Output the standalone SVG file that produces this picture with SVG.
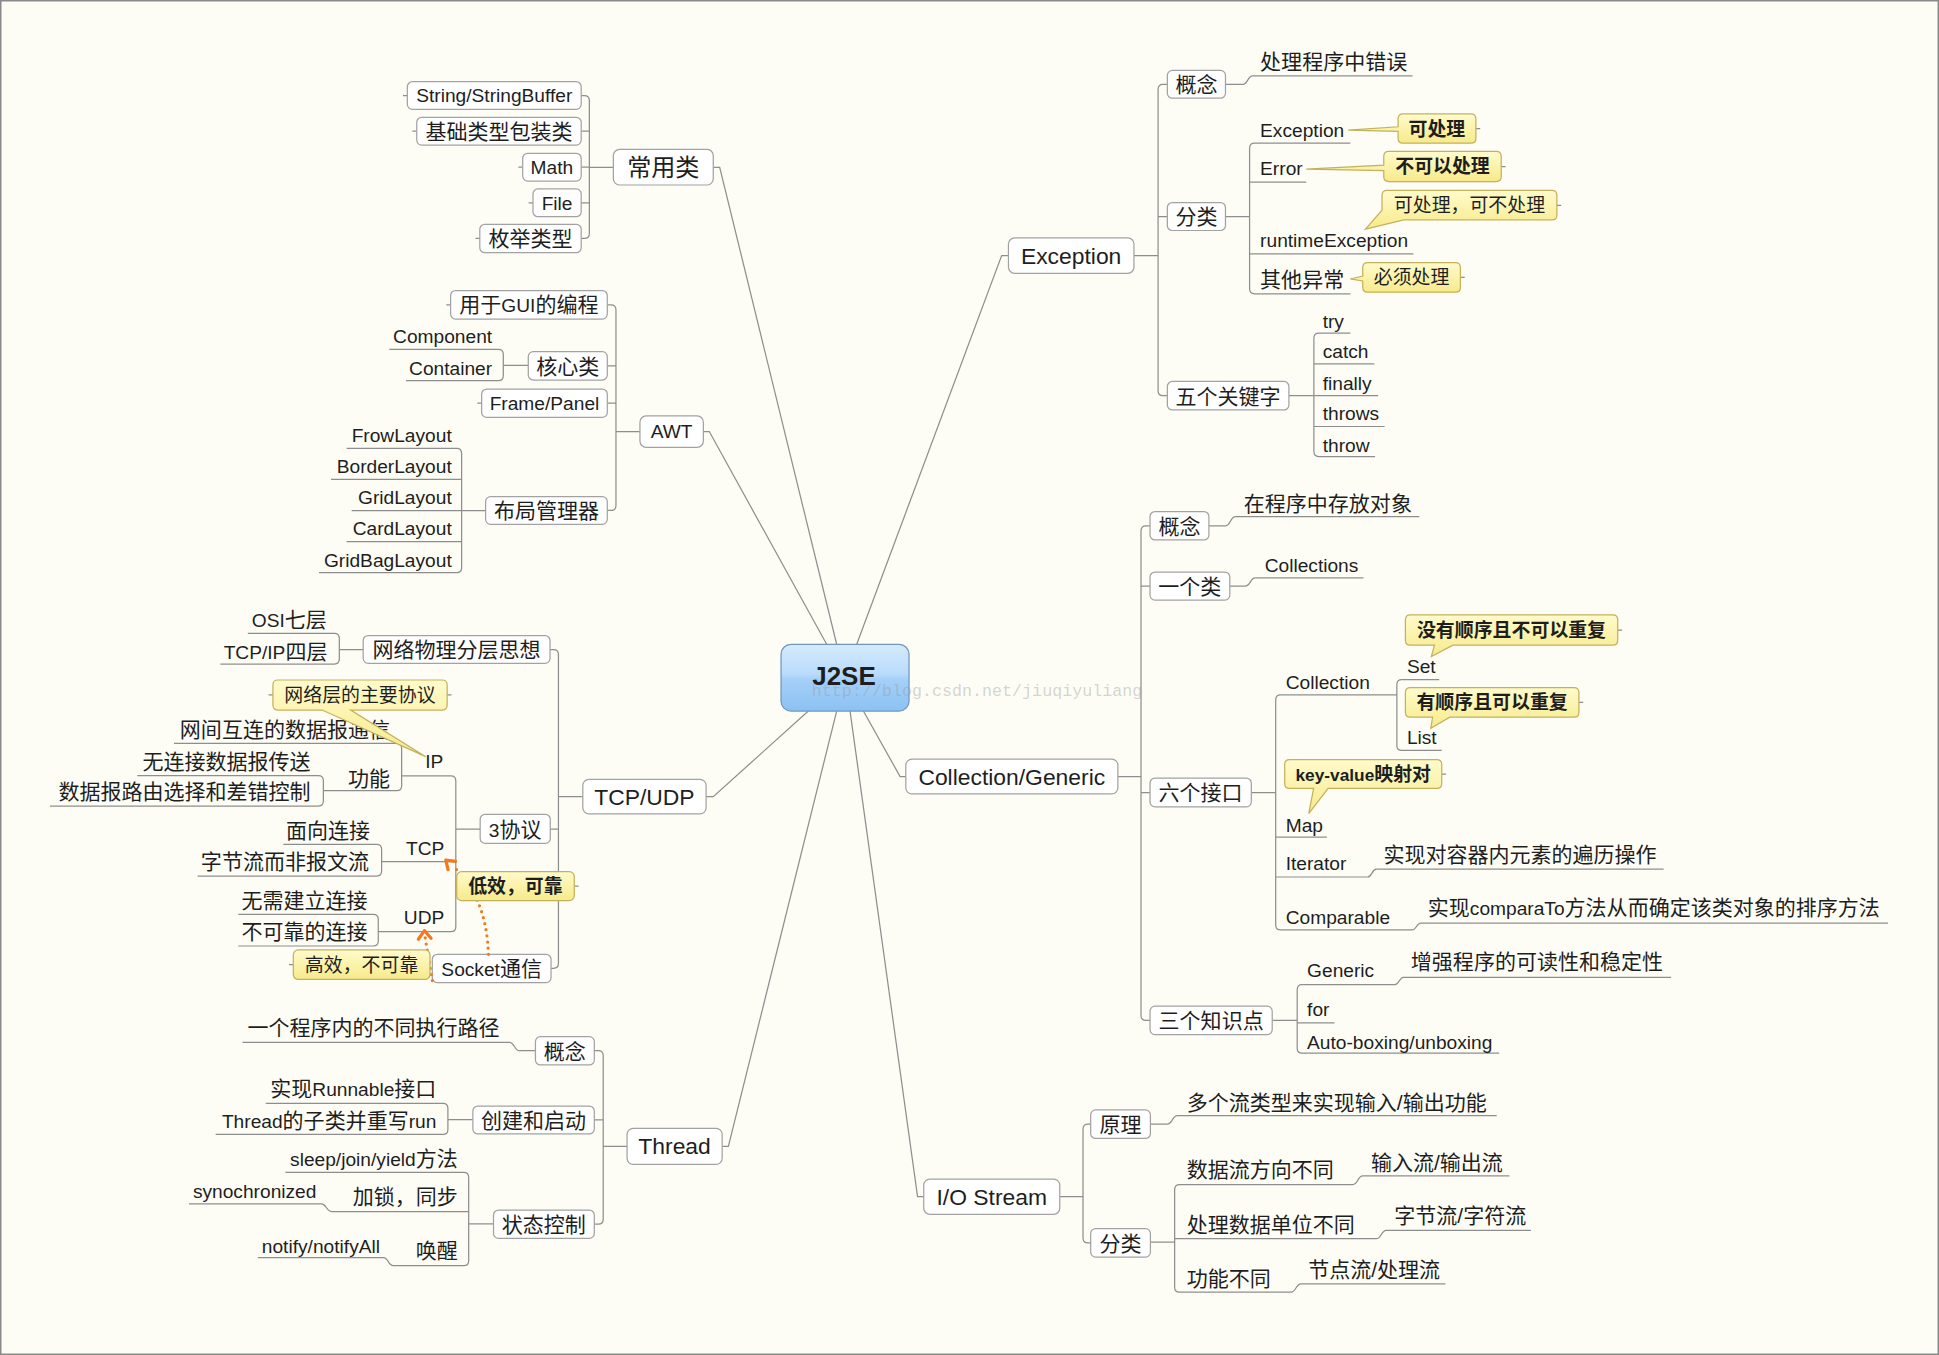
<svg xmlns="http://www.w3.org/2000/svg" width="1939" height="1355" viewBox="0 0 1939 1355">
<defs>
<linearGradient id="gJ" x1="0" y1="0" x2="0" y2="1">
<stop offset="0" stop-color="#d5eafd"/>
<stop offset="0.45" stop-color="#b9dbfb"/>
<stop offset="0.52" stop-color="#a5d0f8"/>
<stop offset="1" stop-color="#8bc2f3"/>
</linearGradient>
<linearGradient id="gC" x1="0" y1="0" x2="0" y2="1">
<stop offset="0" stop-color="#fffbcc"/>
<stop offset="1" stop-color="#f7ea8a"/>
</linearGradient>
<style>
.ln{fill:none;stroke:#8e8e8e;stroke-width:1}
.bx{fill:#ffffff;stroke:#a2a2a2;stroke-width:1}
.co{fill:url(#gC);stroke:#c3b15c;stroke-width:1}
text{font-family:"Liberation Sans","Noto Sans CJK SC",sans-serif;fill:#1e1e1e}
.l{font-size:15.5px}
.c{font-size:17px}
.m{font-size:18.5px}
.mc{font-size:19.5px}
.k{font-size:15.3px}
.kl{font-size:14px}
.b{font-weight:bold}
.e{text-anchor:end}
.mid{text-anchor:middle}
.rel{fill:none;stroke:#f07a22;stroke-width:2.6;stroke-linecap:round;stroke-linejoin:round}
.dot{stroke-dasharray:0 5}
.wm{font-family:"Liberation Mono",monospace;font-size:13.5px;fill:#9a9a9a;fill-opacity:0.42}
</style>
</defs>
<rect x="0" y="0" width="1939" height="1355" fill="#fdfdf5"/>
<rect x="0.75" y="0.75" width="1937.5" height="1353.5" fill="none" stroke="#8a8a8a" stroke-width="1.5"/>
<g transform="scale(1.2366)">
<g id="connectors">
<path class="ln" d="M577,135.3H582L676.6,521"/>
<path class="ln" d="M568.8,349H573.6L668.5,521"/>
<path class="ln" d="M571,644.2H576.8L653.7,575"/>
<path class="ln" d="M584,927H589L676.6,575"/>
<path class="ln" d="M747,967.7H742L687.4,575"/>
<path class="ln" d="M732.5,628H727.9L698.2,575"/>
<path class="ln" d="M815.5,206.7H810L692.8,521"/>
<path class="ln" d="M470,77.3H472.6Q476.6,77.3 476.6,81.3V188.8Q476.6,192.8 472.6,192.8H470M470,106.1H476.6M470,135.2H476.6M470,164H476.6M476.6,135.3H496"/>
<path class="ln" d="M491.1,246.6H494.1Q498.1,246.6 498.1,250.6V408.8Q498.1,412.8 494.1,412.8H491.1M491.1,295.8H498.1M491.1,326H498.1M498.1,349H517.5"/>
<path class="ln" d="M314.8,282.5H403Q407,282.5 407,286.5V303.8Q407,307.8 403,307.8H328.3M407,295.5H427.2"/>
<path class="ln" d="M280.3,362.6H369.3Q373.3,362.6 373.3,366.6V459.1Q373.3,463.1 369.3,463.1H258M267.7,387.6H373.3M284.4,413H392.7M280.3,438H373.3"/>
<path class="ln" d="M944,68.2H940.5Q936.5,68.2 936.5,72.2V316Q936.5,320 940.5,320H944M944,175.1H936.5M917,206.7H936.5"/>
<path class="ln" d="M991,68.2H1005C1009,68.2 1009,61.3 1013,61.3H1142.3"/>
<path class="ln" d="M1092,115.8H1014.5Q1010.5,115.8 1010.5,119.8V233.6Q1010.5,237.6 1014.5,237.6H1092M1010.5,147.3H1056.3M1010.5,205.3H1143M991,175.1H1010.5"/>
<path class="ln" d="M1092,269.4H1066.5Q1062.5,269.4 1062.5,273.4V365.2Q1062.5,369.2 1066.5,369.2H1112M1062.5,294.3H1111.4M1042.3,320H1114.5M1062.5,344.9H1119.7"/>
<path class="ln" d="M930,425.2H926.7Q922.7,425.2 922.7,429.2V821.2Q922.7,825.2 926.7,825.2H930M930,474H922.7M930,641H922.7M904,628H922.7"/>
<path class="ln" d="M977.6,425.2H991C995,425.2 995,417.8 999,417.8H1147.7"/>
<path class="ln" d="M994.5,474H1007C1011,474 1011,467.4 1015,467.4H1102.6"/>
<path class="ln" d="M1129.6,562H1035.6Q1031.6,562 1031.6,566V748Q1031.6,752 1035.6,752H1142C1145.5,752 1145.5,746.5 1149,746.5H1526.8M1031.6,677H1073M1031.6,709.2H1106C1109.5,709.2 1109.5,702.9 1113,702.9H1345.3M1011.9,641H1031.6"/>
<path class="ln" d="M1163.9,549.5H1133.6Q1129.6,549.5 1129.6,553.5V602.8Q1129.6,606.8 1133.6,606.8H1165.9"/>
<path class="ln" d="M1057,796.3H1053Q1049,796.3 1049,800.3V847.6Q1049,851.6 1053,851.6H1212.3M1053,796.3H1128C1131.5,796.3 1131.5,790.4 1135,790.4H1351.4M1049,827.1H1079.2M1028.8,825.2H1049"/>
<path class="ln" d="M882,909.1H879.8Q875.8,909.1 875.8,913.1V1001.1Q875.8,1005.1 879.8,1005.1H882M857,967.7H875.8"/>
<path class="ln" d="M930.3,909.1H944C948,909.1 948,902.2 952,902.2H1210.3"/>
<path class="ln" d="M953.9,957.9H1094C1098,957.9 1098,950.9 1102,950.9H1220.6M953.9,957.9Q949.9,957.9 949.9,961.9V1040.9Q949.9,1044.9 953.9,1044.9H1044C1048,1044.9 1048,1038.2 1052,1038.2H1168.9M949.9,1001.7H1113C1117,1001.7 1117,994.9 1121,994.9H1238M930.3,1004.5H949.9"/>
<path class="ln" d="M480.6,849.7H483.8Q487.8,849.7 487.8,853.7V986Q487.8,990 483.8,990H480.6M480.6,905.7H487.8M487.8,927H507.1"/>
<path class="ln" d="M433,849.7H420C416,849.7 416,842.9 412,842.9H196.1"/>
<path class="ln" d="M214.9,892.2H358.2Q362.2,892.2 362.2,896.2V913.3Q362.2,917.3 358.2,917.3H174.4M362.2,905.5H382.4"/>
<path class="ln" d="M230.8,948H375Q379,948 379,952V1019.5Q379,1023.5 375,1023.5H318C314,1023.5 314,1017 310,1017H208.5M379,979.8H268C264,979.8 264,973.6 260,973.6H152.8M379,989.8H399.1"/>
<path class="ln" d="M444.8,525.3H447.6Q451.6,525.3 451.6,529.3V779Q451.6,783 447.6,783H445.6M445,670.4H451.6M451.6,644.2H471.3"/>
<path class="ln" d="M200.4,512.2H270.4Q274.4,512.2 274.4,516.2V533Q274.4,537 270.4,537H178.2M274.4,525.3H293.7"/>
<path class="ln" d="M324.8,627.5H364.6Q368.6,627.5 368.6,631.5V749.4Q368.6,753.4 364.6,753.4H305.9M308.6,696.8H368.6M368.6,670.4H388.3"/>
<path class="ln" d="M140.7,601.1H320.8Q324.8,601.1 324.8,605.1V635.4Q324.8,639.4 320.8,639.4H261.5"/>
<path class="ln" d="M111,627.3H257.5Q261.5,627.3 261.5,631.3V647.8Q261.5,651.8 257.5,651.8H40.4"/>
<path class="ln" d="M229.1,682.8H304.6Q308.6,682.8 308.6,686.8V704.4Q308.6,708.4 304.6,708.4H159.8"/>
<path class="ln" d="M192.7,739.4H301.9Q305.9,739.4 305.9,743.4V761Q305.9,765 301.9,765H192.7"/>
<path class="ln" d="M329.4,77.3h-3.5M337,106.1h-3.5M422.7,135.2h-3.5M431,164h-3.5M388,192.8h-3.5M364.4,246.6h-3.5M389.5,326h-3.5"/>
<path class="ln" d="M1193.5,104h3.5M1214,134.7h3.5M1259,166h3.5M1181,224.3h3.5M1308.2,509.5h3.5M1276.8,568h3.5M1165.9,626h3.5M220.7,562h-3.5M361.6,562h3.5M464.4,716.6h3.5M237.2,780.1h-3.5"/>
</g>
<g id="n-j2se">
<rect x="631.6" y="521.1" width="103.5" height="53.9" rx="8" fill="url(#gJ)" stroke="#7195bb"/>
<text class="wm" x="656.5" y="562.5">http://blog.csdn.net/jiuqiyuliang</text>
<text class="mid b" x="682.5" y="554" font-size="21" fill="#2b2b2b">J2SE</text>
</g>
<g id="n-changyong">
<rect class="bx" x="496" y="120.8" width="80.8" height="28.8" rx="5"/>
<text class="mc mid" x="536.4" y="142.5">常用类</text>
</g>
<g id="n-string"><rect class="bx" x="329.4" y="66.1" width="140.6" height="22.3" rx="4"/><text class="l mid" x="399.7" y="82.8">String/StringBuffer</text></g>
<g id="n-baozhuang"><rect class="bx" x="337" y="94.9" width="133" height="22.4" rx="4"/><text class="c mid" x="403.5" y="112.5">基础类型包装类</text></g>
<g id="n-math"><rect class="bx" x="422.7" y="124" width="47.3" height="22.4" rx="4"/><text class="l mid" x="446.3" y="140.7">Math</text></g>
<g id="n-file"><rect class="bx" x="431" y="152.8" width="39" height="22.4" rx="4"/><text class="l mid" x="450.5" y="169.5">File</text></g>
<g id="n-meiju"><rect class="bx" x="388" y="181.4" width="82" height="22.9" rx="4"/><text class="c mid" x="429" y="199.2">枚举类型</text></g>
<g id="n-awt">
<rect class="bx" x="517.5" y="336.4" width="51.3" height="25.3" rx="5"/>
<text class="l mid" x="543.1" y="354.5">AWT</text>
</g>
<g id="n-gui"><rect class="bx" x="364.4" y="235" width="126.7" height="23" rx="4"/><text class="c mid" x="427.7" y="252.7">用于<tspan class="l">GUI</tspan>的编程</text></g>
<g id="n-hexin"><rect class="bx" x="427.2" y="284.4" width="63.9" height="22.9" rx="4"/><text class="c mid" x="459.1" y="302.2">核心类</text></g>
<g id="n-component"><text class="l e" x="398" y="277.6">Component</text></g>
<g id="n-container"><text class="l e" x="398" y="303.3">Container</text></g>
<g id="n-frame"><rect class="bx" x="389.5" y="314.6" width="101.6" height="22.9" rx="4"/><text class="l mid" x="440.3" y="331.5">Frame/Panel</text></g>
<g id="n-buju"><rect class="bx" x="392.7" y="401.6" width="98.4" height="22.4" rx="4"/><text class="c mid" x="441.9" y="419.2">布局管理器</text></g>
<g id="n-layouts">
<text class="l e" x="365.3" y="357.2">FrowLayout</text>
<text class="l e" x="365.3" y="382.2">BorderLayout</text>
<text class="l e" x="365.3" y="407.6">GridLayout</text>
<text class="l e" x="365.3" y="432.6">CardLayout</text>
<text class="l e" x="365.3" y="458.3">GridBagLayout</text>
</g>
<g id="n-exception">
<rect class="bx" x="815.5" y="192.4" width="101.5" height="28.6" rx="5"/>
<text class="m mid" x="866.2" y="213.3">Exception</text>
</g>
<g id="n-exc-gainian"><rect class="bx" x="944" y="57" width="47" height="22.4" rx="4"/><text class="c mid" x="967.5" y="74.6">概念</text></g>
<g id="n-exc-chuli"><text class="c" x="1019" y="56">处理程序中错误</text></g>
<g id="n-exc-fenlei"><rect class="bx" x="944" y="163.8" width="47" height="22.6" rx="4"/><text class="c mid" x="967.5" y="181.5">分类</text></g>
<g id="n-exc-exception"><text class="l" x="1019" y="110.4">Exception</text></g>
<g id="n-exc-error"><text class="l" x="1019" y="141.4">Error</text></g>
<g id="n-exc-runtime"><text class="l" x="1019" y="200">runtimeException</text></g>
<g id="n-exc-other"><text class="c" x="1019" y="232">其他异常</text></g>
<g id="n-exc-keywords"><rect class="bx" x="944" y="308.5" width="98.3" height="23" rx="4"/><text class="c mid" x="993.1" y="326.4">五个关键字</text></g>
<g id="n-exc-kw">
<text class="l" x="1069.6" y="265.4">try</text>
<text class="l" x="1069.6" y="289.7">catch</text>
<text class="l" x="1069.6" y="315.3">finally</text>
<text class="l" x="1069.6" y="339.5">throws</text>
<text class="l" x="1069.6" y="365.2">throw</text>
</g>
<g id="n-collection">
<rect class="bx" x="732.5" y="613.8" width="171.5" height="28.2" rx="5"/>
<text class="m mid" x="818.2" y="634.6">Collection/Generic</text>
</g>
<g id="n-col-gainian"><rect class="bx" x="930" y="413.7" width="47.6" height="22.9" rx="4"/><text class="c mid" x="953.8" y="431.6">概念</text></g>
<g id="n-col-cunfang"><text class="c" x="1005.8" y="413.3">在程序中存放对象</text></g>
<g id="n-col-yigelei"><rect class="bx" x="930" y="462.6" width="64.5" height="22.7" rx="4"/><text class="c mid" x="962.2" y="480.4">一个类</text></g>
<g id="n-col-collections"><text class="l" x="1022.7" y="462.6">Collections</text></g>
<g id="n-col-jiekou"><rect class="bx" x="930" y="629.2" width="81.9" height="23.3" rx="4"/><text class="c mid" x="970.9" y="647.3">六个接口</text></g>
<g id="n-col-coll"><text class="l" x="1039.7" y="557">Collection</text></g>
<g id="n-col-set"><text class="l" x="1137.7" y="544.1">Set</text></g>
<g id="n-col-list"><text class="l" x="1137.7" y="601.7">List</text></g>
<g id="n-col-map"><text class="l" x="1039.7" y="672.5">Map</text></g>
<g id="n-col-iterator"><text class="l" x="1039.7" y="703.8">Iterator</text><text class="c" x="1118.7" y="697">实现对容器内元素的遍历操作</text></g>
<g id="n-col-comparable"><text class="l" x="1039.7" y="747">Comparable</text><text class="c" x="1154.6" y="740.3">实现<tspan class="l">comparaTo</tspan>方法从而确定该类对象的排序方法</text></g>
<g id="n-col-sange"><rect class="bx" x="930" y="813.7" width="98.8" height="22.9" rx="4"/><text class="c mid" x="979.4" y="831.6">三个知识点</text></g>
<g id="n-col-generic"><text class="l" x="1057" y="790.4">Generic</text><text class="c" x="1140.9" y="783.3">增强程序的可读性和稳定性</text></g>
<g id="n-col-for"><text class="l" x="1057" y="821.7">for</text></g>
<g id="n-col-autobox"><text class="l" x="1057" y="848.6">Auto-boxing/unboxing</text></g>
<g id="n-io">
<rect class="bx" x="747" y="953.5" width="110" height="28.5" rx="5"/>
<text class="m mid" x="802" y="974.3">I/O Stream</text>
</g>
<g id="n-io-yuanli"><rect class="bx" x="882" y="897.6" width="48.3" height="23" rx="4"/><text class="c mid" x="906.1" y="915.5">原理</text></g>
<g id="n-io-duoge"><text class="c" x="959.6" y="897.8">多个流类型来实现输入/输出功能</text></g>
<g id="n-io-fenlei"><rect class="bx" x="882" y="993.6" width="48.3" height="23" rx="4"/><text class="c mid" x="906.1" y="1011.5">分类</text></g>
<g id="n-io-fangxiang"><text class="c" x="959.6" y="952">数据流方向不同</text><text class="c" x="1108.6" y="945.8">输入流/输出流</text></g>
<g id="n-io-danwei"><text class="c" x="959.6" y="996">处理数据单位不同</text><text class="c" x="1127.5" y="989">字节流/字符流</text></g>
<g id="n-io-gongneng"><text class="c" x="959.6" y="1040">功能不同</text><text class="c" x="1057.9" y="1032.8">节点流/处理流</text></g>
<g id="n-thread">
<rect class="bx" x="507.1" y="912.4" width="76.9" height="29.2" rx="5"/>
<text class="m mid" x="545.5" y="933.6">Thread</text>
</g>
<g id="n-thr-gainian"><rect class="bx" x="433" y="838.3" width="47.6" height="22.9" rx="4"/><text class="c mid" x="456.8" y="856.1">概念</text></g>
<g id="n-thr-lujing"><text class="c e" x="404" y="837.2">一个程序内的不同执行路径</text></g>
<g id="n-thr-chuangjian"><rect class="bx" x="382.4" y="894.4" width="98.2" height="22.6" rx="4"/><text class="c mid" x="431.5" y="912.1">创建和启动</text></g>
<g id="n-thr-runnable"><text class="c e" x="352.9" y="886.5">实现<tspan class="l">Runnable</tspan>接口</text></g>
<g id="n-thr-sub"><text class="c e" x="352.9" y="912.2"><tspan class="l">Thread</tspan>的子类并重写<tspan class="l">run</tspan></text></g>
<g id="n-thr-zhuangtai"><rect class="bx" x="399.1" y="978.5" width="81.5" height="22.9" rx="4"/><text class="c mid" x="439.8" y="996.4">状态控制</text></g>
<g id="n-thr-sleep"><text class="c e" x="370.2" y="943.2"><tspan class="l">sleep/join/yield</tspan>方法</text></g>
<g id="n-thr-suo"><text class="c e" x="370.2" y="973.5">加锁，同步</text></g>
<g id="n-thr-sync"><text class="l e" x="255.9" y="969">synochronized</text></g>
<g id="n-thr-huanxing"><text class="c e" x="370.2" y="1017.4">唤醒</text></g>
<g id="n-thr-notify"><text class="l e" x="307.3" y="1013">notify/notifyAll</text></g>
<g id="n-tcpudp">
<rect class="bx" x="471.3" y="630.2" width="99.7" height="28" rx="5"/>
<text class="m mid" x="521.1" y="650.8">TCP/UDP</text>
</g>
<g id="n-net-fenceng"><rect class="bx" x="293.7" y="514" width="151.1" height="22.4" rx="4"/><text class="c mid" x="369.2" y="531.6">网络物理分层思想</text></g>
<g id="n-net-osi"><text class="c e" x="264.3" y="506.8"><tspan class="l">OSI</tspan>七层</text></g>
<g id="n-net-tcpip"><text class="c e" x="264.8" y="532.6"><tspan class="l">TCP/IP</tspan>四层</text></g>
<g id="n-net-xieyi"><rect class="bx" x="388.3" y="658.5" width="56.7" height="23.5" rx="4"/><text class="c mid" x="416.6" y="676.5"><tspan class="l">3</tspan>协议</text></g>
<g id="n-net-ip"><text class="l e" x="358.5" y="621.3">IP</text></g>
<g id="n-net-hulian"><text class="c e" x="315.4" y="596">网间互连的数据报通信</text></g>
<g id="n-net-gongneng"><text class="c e" x="315.4" y="635.5">功能</text></g>
<g id="n-net-wulianjie"><text class="c e" x="251.2" y="621.5">无连接数据报传送</text></g>
<g id="n-net-luyou"><text class="c e" x="251.2" y="645.8">数据报路由选择和差错控制</text></g>
<g id="n-net-tcp"><text class="l e" x="359.3" y="691.4">TCP</text></g>
<g id="n-net-mianxiang"><text class="c e" x="299.2" y="677.5">面向连接</text></g>
<g id="n-net-zijie"><text class="c e" x="298.4" y="703">字节流而非报文流</text></g>
<g id="n-net-udp"><text class="l e" x="359.3" y="747.5">UDP</text></g>
<g id="n-net-wuxu"><text class="c e" x="297.3" y="734">无需建立连接</text></g>
<g id="n-net-bukekao"><text class="c e" x="297.3" y="759">不可靠的连接</text></g>
<g id="n-net-socket"><rect class="bx" x="349.6" y="771.7" width="96" height="22.9" rx="4"/><text class="c mid" x="397.6" y="789.1"><tspan class="l">Socket</tspan>通信</text></g>
<g id="relations">
<path class="rel dot" d="M395,771.7C394,748 389,722 366,700"/>
<path class="rel" d="M368.4,696.5L360.5,695.5L362.3,703.3"/>
<path class="rel dot" d="M349.6,793L343.6,757"/>
<path class="rel" d="M338.3,759.5L343.2,752.6L348.6,758.7"/>
</g>
<g id="callouts">
<g id="c-kechuli"><path class="co" d="M1134.6,92.1H1189.5Q1193.5,92.1 1193.5,96.1V111.8Q1193.5,115.8 1189.5,115.8H1134.6Q1130.6,115.8 1130.6,111.8V106.3L1090.3,105.2L1130.6,102.5V96.1Q1130.6,92.1 1134.6,92.1Z"/><text class="k b mid" x="1162" y="109.6">可处理</text></g>
<g id="c-bukeyi"><path class="co" d="M1123,122.5H1210Q1214,122.5 1214,126.5V142.8Q1214,146.8 1210,146.8H1123Q1119,146.8 1119,142.8V137.9L1056.3,136.8L1119,133.6V126.5Q1119,122.5 1123,122.5Z"/><text class="k b mid" x="1166.5" y="140.3">不可以处理</text></g>
<g id="c-kebu"><path class="co" d="M1121.6,154H1255Q1259,154 1259,158V173.8Q1259,177.8 1255,177.8H1135.2L1104.2,185.3L1117.6,170V158Q1117.6,154 1121.6,154Z"/><text class="k mid" x="1188.3" y="171.6">可处理，可不处理</text></g>
<g id="c-bixu"><path class="co" d="M1106,212.3H1177Q1181,212.3 1181,216.3V232.3Q1181,236.3 1177,236.3H1106Q1102,236.3 1102,232.3V227.2L1091.9,225.6L1102,223.2V216.3Q1102,212.3 1106,212.3Z"/><text class="k mid" x="1141.5" y="229.9">必须处理</text></g>
<g id="c-meiyou"><path class="co" d="M1140.5,497.2H1304.2Q1308.2,497.2 1308.2,501.2V517.7Q1308.2,521.7 1304.2,521.7H1175L1157.5,531L1160,521.7H1140.5Q1136.5,521.7 1136.5,517.7V501.2Q1136.5,497.2 1140.5,497.2Z"/><text class="k b mid" x="1222.3" y="515.1">没有顺序且不可以重复</text></g>
<g id="c-youshunxu"><path class="co" d="M1140.5,556H1272.8Q1276.8,556 1276.8,560V576Q1276.8,580 1272.8,580H1172.4L1157,589L1158.5,580H1140.5Q1136.5,580 1136.5,576V560Q1136.5,556 1140.5,556Z"/><text class="k b mid" x="1206.6" y="573.6">有顺序且可以重复</text></g>
<g id="c-keyvalue"><path class="co" d="M1042.9,614.3H1161.9Q1165.9,614.3 1165.9,618.3V633.5Q1165.9,637.5 1161.9,637.5H1074L1058.3,658L1062.3,637.5H1042.9Q1038.9,637.5 1038.9,633.5V618.3Q1038.9,614.3 1042.9,614.3Z"/><text class="k b mid" x="1102.4" y="631.5"><tspan class="kl">key-value</tspan>映射对</text></g>
<g id="c-wangluoceng"><path class="co" d="M224.7,549.9H357.6Q361.6,549.9 361.6,553.9V570.2Q361.6,574.2 357.6,574.2H283.6L344.3,611.9L260.5,574.2H224.7Q220.7,574.2 220.7,570.2V553.9Q220.7,549.9 224.7,549.9Z"/><text class="k mid" x="291.1" y="567.6">网络层的主要协议</text></g>
<g id="c-dixiao"><rect class="co" x="369.3" y="704.9" width="95.1" height="23.4" rx="4"/><text class="k b mid" x="416.8" y="722.2">低效，可靠</text></g>
<g id="c-gaoxiao"><rect class="co" x="237.2" y="768.2" width="110.5" height="23.8" rx="4"/><text class="k mid" x="292.4" y="785.7">高效，不可靠</text></g>
</g>
</g>
</svg>
